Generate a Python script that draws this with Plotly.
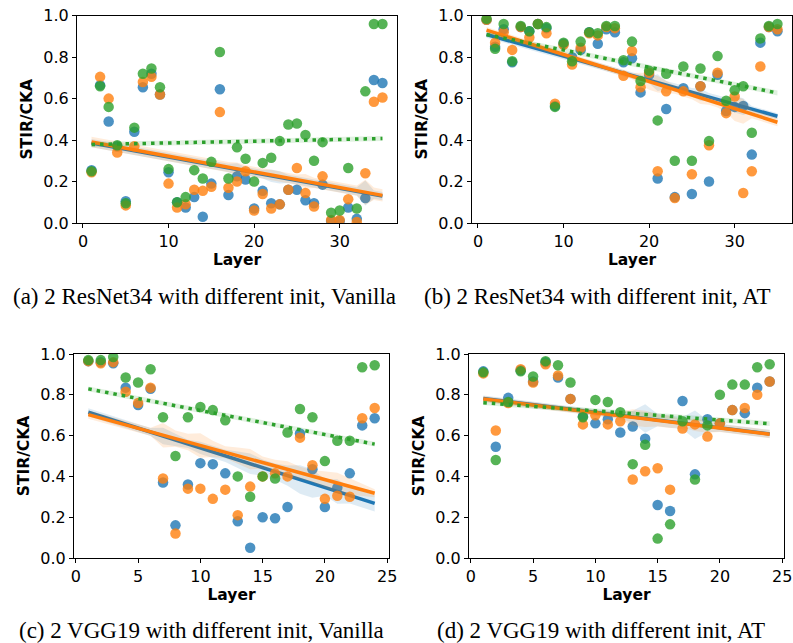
import numpy as np
import plotly.graph_objects as go

# ---------------- data ----------------
layers_resnet = list(range(1, 36))
layers_vgg = list(range(1, 25))

# (a) ResNet34, Vanilla
a_blue = [0.255, 0.665, 0.49, 0.37, 0.105, 0.44, 0.655, 0.72, 0.62, 0.245,
          0.10, 0.075, 0.125, 0.03, 0.19, 0.645, 0.135, 0.225, 0.21, 0.07,
          0.155, 0.095, 0.09, 0.16, 0.16, 0.11, 0.095, 0.185, 0.01, 0.01,
          0.075, 0.02, 0.12, 0.69, 0.675]
a_orange = [0.245, 0.705, 0.60, 0.34, 0.085, 0.37, 0.68, 0.705, 0.62, 0.19,
            0.075, 0.09, 0.16, 0.155, 0.175, 0.535, 0.17, 0.20, 0.25, 0.06,
            0.14, 0.07, 0.09, 0.16, 0.265, 0.145, 0.08, 0.225, 0.015, 0.015,
            0.115, 0.005, 0.24, 0.585, 0.605]
a_green = [0.25, 0.66, 0.56, 0.375, 0.095, 0.46, 0.72, 0.745, 0.655, 0.26,
           0.10, 0.125, 0.255, 0.215, 0.295, 0.825, 0.215, 0.365, 0.31, 0.20,
           0.29, 0.315, 0.395, 0.475, 0.48, 0.425, 0.30, 0.39, 0.05, 0.06,
           0.265, 0.07, 0.635, 0.96, 0.96]

# (b) ResNet34, AT
b_blue = [0.98, 0.85, 0.935, 0.775, 0.945, 0.925, 0.96, 0.94, 0.565, 0.865,
          0.80, 0.835, 0.92, 0.865, 0.935, 0.92, 0.775, 0.795, 0.63, 0.715,
          0.215, 0.55, 0.125, 0.65, 0.14, 0.66, 0.20, 0.715, 0.54, 0.56,
          0.565, 0.33, 0.87, 0.945, 0.925]
b_orange = [0.98, 0.87, 0.92, 0.835, 0.945, 0.895, 0.96, 0.915, 0.575, 0.86,
            0.765, 0.845, 0.915, 0.905, 0.945, 0.94, 0.71, 0.83, 0.655, 0.725,
            0.25, 0.635, 0.12, 0.635, 0.235, 0.66, 0.375, 0.725, 0.53, 0.61,
            0.145, 0.25, 0.755, 0.945, 0.935]
b_green = [0.985, 0.84, 0.96, 0.78, 0.95, 0.925, 0.96, 0.945, 0.56, 0.87,
           0.78, 0.875, 0.92, 0.915, 0.95, 0.95, 0.785, 0.875, 0.685, 0.735,
           0.495, 0.72, 0.30, 0.755, 0.30, 0.745, 0.395, 0.805, 0.59, 0.64,
           0.66, 0.435, 0.89, 0.95, 0.96]

# (c) VGG19, Vanilla
c_blue = [0.965, 0.96, 0.955, 0.835, 0.75, 0.83, 0.37, 0.16, 0.36, 0.465,
          0.46, 0.415, 0.18, 0.05, 0.20, 0.195, 0.25, 0.61, 0.435, 0.25,
          0.345, 0.415, 0.65, 0.685]
c_orange = [0.965, 0.955, 0.96, 0.815, 0.76, 0.835, 0.39, 0.12, 0.34, 0.34,
            0.29, 0.335, 0.21, 0.35, 0.40, 0.415, 0.40, 0.59, 0.455, 0.29,
            0.305, 0.30, 0.685, 0.735]
c_green = [0.97, 0.97, 0.985, 0.885, 0.86, 0.925, 0.69, 0.50, 0.69, 0.74,
           0.725, 0.675, 0.40, 0.30, 0.40, 0.39, 0.615, 0.73, 0.69, 0.475,
           0.575, 0.575, 0.935, 0.945]

# (d) VGG19, AT
d_blue = [0.915, 0.545, 0.785, 0.92, 0.865, 0.96, 0.885, 0.78, 0.695, 0.66,
          0.68, 0.615, 0.645, 0.585, 0.26, 0.23, 0.77, 0.41, 0.68, 0.66,
          0.725, 0.71, 0.835, 0.865]
d_orange = [0.905, 0.625, 0.76, 0.925, 0.86, 0.95, 0.895, 0.78, 0.655, 0.70,
            0.655, 0.67, 0.385, 0.425, 0.44, 0.335, 0.635, 0.655, 0.595, 0.66,
            0.725, 0.735, 0.80, 0.865]
d_green = [0.91, 0.48, 0.765, 0.915, 0.89, 0.965, 0.945, 0.86, 0.69, 0.775,
           0.765, 0.715, 0.46, 0.555, 0.095, 0.165, 0.67, 0.385, 0.65, 0.80,
           0.85, 0.85, 0.935, 0.95]

# half-widths of the shaded uncertainty bands around each fit
a_band_blue = [0.02]*17 + [0.03, 0.02, 0.02, 0.02, 0.03, 0.03] + [0.02]*9 + [0.06, 0.02, 0.02]
a_band_orange = [0.025]*17 + [0.03, 0.025, 0.025, 0.025, 0.025, 0.025, 0.025, 0.025, 0.035] + [0.025]*6 + [0.06, 0.03, 0.03]
b_band_blue = [0.015]*20 + [0.04, 0.02, 0.02, 0.02, 0.02, 0.03, 0.02, 0.02, 0.02, 0.04, 0.04] + [0.015]*4
b_band_orange = [0.015]*18 + [0.03, 0.04, 0.04, 0.03, 0.02, 0.02, 0.02, 0.03, 0.02, 0.02, 0.03, 0.06, 0.06] + [0.02]*4
c_band_blue = [0.02]*6 + [0.04, 0.03, 0.02, 0.03, 0.03, 0.03, 0.04, 0.05, 0.04, 0.04, 0.05, 0.07, 0.07, 0.04, 0.06, 0.04, 0.04, 0.04]
c_band_orange = [0.02]*6 + [0.06, 0.04, 0.04, 0.06, 0.04, 0.03, 0.04, 0.05, 0.03, 0.03, 0.04, 0.03, 0.03, 0.04, 0.05, 0.04, 0.03, 0.02]
d_band_blue = [0.015]*12 + [0.03, 0.07, 0.03, 0.03, 0.03, 0.07, 0.03] + [0.02]*5
d_band_orange = [0.015]*11 + [0.02, 0.04, 0.04, 0.03, 0.03, 0.02, 0.03, 0.03] + [0.02]*5
green_band = 0.012

captions = ["(a) 2 ResNet34 with different init, Vanilla",
            "(b) 2 ResNet34 with different init, AT",
            "(c) 2 VGG19 with different init, Vanilla",
            "(d) 2 VGG19 with different init, AT"]

y_ticks = [0.0, 0.2, 0.4, 0.6, 0.8, 1.0]
x_ticks_resnet = [0, 10, 20, 30]
x_ticks_vgg = [0, 5, 10, 15, 20, 25]

# ---------------- style ----------------
BLUE = "31,119,180"
ORANGE = "255,127,14"
GREEN = "44,160,44"

W, H = 793, 643
def px(xl, xr, yt, yb):
    return [xl / W, xr / W], [1 - yb / H, 1 - yt / H]

panels = [
    dict(x=layers_resnet, series=[(a_blue, a_band_blue), (a_orange, a_band_orange), (a_green, None)],
         dom=px(77, 397, 15.7, 223), xticks=x_ticks_resnet),
    dict(x=layers_resnet, series=[(b_blue, b_band_blue), (b_orange, b_band_orange), (b_green, None)],
         dom=px(472, 792, 15.7, 223), xticks=x_ticks_resnet),
    dict(x=layers_vgg, series=[(c_blue, c_band_blue), (c_orange, c_band_orange), (c_green, None)],
         dom=px(74, 389, 354, 558), xticks=x_ticks_vgg),
    dict(x=layers_vgg, series=[(d_blue, d_band_blue), (d_orange, d_band_orange), (d_green, None)],
         dom=px(469, 784, 354, 558), xticks=x_ticks_vgg),
]
colors = [BLUE, ORANGE, GREEN]

fig = go.Figure()
layout = {}
for i, p in enumerate(panels):
    xa = "x" if i == 0 else f"x{i+1}"
    ya = "y" if i == 0 else f"y{i+1}"
    xs = np.array(p["x"], dtype=float)
    for j, (ys, band) in enumerate(p["series"]):
        c = colors[j]
        ys = np.array(ys)
        fig.add_trace(go.Scatter(x=xs, y=ys, mode="markers", xaxis=xa, yaxis=ya,
                                 marker=dict(size=10.5, color=f"rgba({c},0.8)", line=dict(width=0)),
                                 showlegend=False, hoverinfo="skip"))
        slope, inter = np.polyfit(xs, ys, 1)
        fit = inter + slope * xs
        hw = np.array(band) if band is not None else np.full(len(xs), green_band)
        fig.add_trace(go.Scatter(x=np.concatenate([xs, xs[::-1]]),
                                 y=np.concatenate([fit + hw, (fit - hw)[::-1]]),
                                 fill="toself", fillcolor=f"rgba({c},0.15)", mode="lines",
                                 line=dict(width=0), xaxis=xa, yaxis=ya,
                                 showlegend=False, hoverinfo="skip"))
        if j < 2:
            ln = dict(color=f"rgb({c})", width=3.5)
        else:
            ln = dict(color=f"rgb({c})", width=3.5, dash="3.5px,5px")
        fig.add_trace(go.Scatter(x=xs, y=fit, mode="lines", line=ln, xaxis=xa, yaxis=ya,
                                 showlegend=False, hoverinfo="skip"))
    n = xs.max() - xs.min()
    xr = [xs.min() - 0.05 * n, xs.max() + 0.05 * n]
    axis_common = dict(showline=True, linecolor="black", linewidth=1, mirror=True,
                       ticks="outside", ticklen=4, tickwidth=1, tickcolor="black",
                       showgrid=False, zeroline=False, automargin=False,
                       tickfont=dict(family="DejaVu Sans", size=16, color="black"))
    layout["xaxis" if i == 0 else f"xaxis{i+1}"] = dict(
        domain=p["dom"][0], range=xr, tickvals=p["xticks"], anchor=ya,
        title=dict(text="<b>Layer</b>", font=dict(family="DejaVu Sans", size=15.5, color="black"), standoff=2),
        **axis_common)
    layout["yaxis" if i == 0 else f"yaxis{i+1}"] = dict(
        domain=p["dom"][1], range=[0, 1], tickvals=y_ticks, tickformat=".1f", anchor=xa,
        title=dict(text="<b>STIR/CKA</b>", font=dict(family="DejaVu Sans", size=15.5, color="black"), standoff=6),
        **axis_common)

cap_pos = [(204, 296), (597, 296), (201, 630), (601, 630)]
annotations = []
for text, (cx, cy) in zip(captions, cap_pos):
    annotations.append(dict(text=text, x=cx / W, y=1 - cy / H, xref="paper", yref="paper",
                            showarrow=False, xanchor="center", yanchor="middle",
                            font=dict(family="Liberation Serif", size=23, color="black")))

fig.update_layout(width=W, height=H, margin=dict(l=0, r=0, t=0, b=0),
                  paper_bgcolor="white", plot_bgcolor="white",
                  annotations=annotations, **layout)
fig.write_html("out.html")
